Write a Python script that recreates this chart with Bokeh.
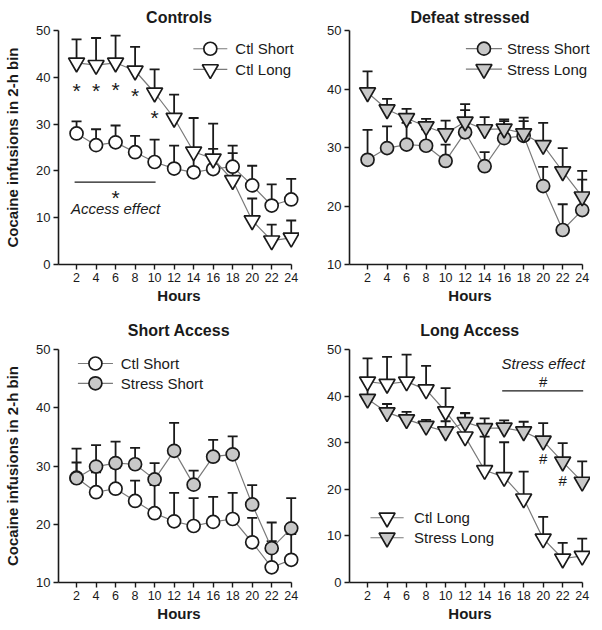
from bokeh.plotting import figure
from bokeh.models import Range1d, Whisker, TeeHead, ColumnDataSource, Label, FixedTicker
from bokeh.layouts import gridplot
from bokeh.core.properties import value
from bokeh.embed import file_html
from bokeh.resources import INLINE

# ---------------- data ----------------
hours = [2, 4, 6, 8, 10, 12, 14, 16, 18, 20, 22, 24]

ctl_short = [28.0, 25.5, 26.1, 24.0, 21.9, 20.5, 19.7, 20.4, 20.9, 16.9, 12.6, 13.9]
ctl_short_sem = [2.6, 3.4, 3.6, 3.5, 4.8, 4.9, 4.8, 4.3, 4.5, 4.2, 4.5, 4.4]

ctl_long = [43.1, 42.6, 43.1, 41.4, 36.7, 31.3, 24.1, 22.6, 18.0, 9.4, 5.1, 5.7]
ctl_long_sem = [5.0, 5.8, 5.8, 5.1, 5.0, 5.0, 7.2, 7.5, 5.8, 4.7, 3.4, 3.7]

stress_short = [27.9, 29.9, 30.5, 30.3, 27.7, 32.6, 26.8, 31.6, 32.0, 23.4, 15.9, 19.3]
stress_short_sem = [5.1, 3.7, 3.7, 2.8, 2.8, 4.8, 2.4, 2.9, 3.1, 3.3, 4.4, 5.2]

stress_long = [39.4, 36.5, 35.0, 33.6, 32.4, 34.4, 33.1, 33.2, 32.4, 30.4, 25.9, 21.6]
stress_long_sem = [3.6, 1.8, 1.6, 1.3, 2.2, 2.0, 2.1, 1.6, 2.1, 3.8, 4.0, 4.4]

x_ticks = [2, 4, 6, 8, 10, 12, 14, 16, 18, 20, 22, 24]
y_ticks_0 = [0, 10, 20, 30, 40, 50]
y_ticks_10 = [10, 20, 30, 40, 50]

panel_titles = ["Controls", "Defeat stressed", "Short Access", "Long Access"]
x_label = "Hours"
y_label = "Cocaine infusions in 2-h bin"

# ---------------- style ----------------
FONT = "Liberation Sans"
INK = "#1a1a1a"
FILL_GRAY = "#c8c8c8"
LINE_GRAY = "#7a7a7a"

series = {
    "Ctl Short": dict(y=ctl_short, e=ctl_short_sem, marker="circle", size=13, fill="white"),
    "Ctl Long": dict(y=ctl_long, e=ctl_long_sem, marker="inverted_triangle", size=16, fill="white"),
    "Stress Short": dict(y=stress_short, e=stress_short_sem, marker="circle", size=13, fill=FILL_GRAY),
    "Stress Long": dict(y=stress_long, e=stress_long_sem, marker="inverted_triangle", size=16, fill=FILL_GRAY),
}


def make_fig(title, ymin, yticks, show_ylabel, width, height, left, top, bottom,
             title_offset, title_standoff):
    p = figure(width=width, height=height, x_range=Range1d(0.15, 24.85),
               y_range=Range1d(ymin, 50), output_backend="svg", toolbar_location=None,
               min_border_left=left, min_border_right=0, min_border_top=top,
               min_border_bottom=bottom)
    p.outline_line_color = None
    p.grid.visible = False
    p.background_fill_color = "white"
    p.border_fill_color = "white"
    p.title.text = title
    p.title.align = "center"
    p.title.offset = title_offset
    p.title.standoff = title_standoff
    p.title.text_font = FONT
    p.title.text_font_size = "16px"
    p.title.text_font_style = "bold"
    p.title.text_color = INK

    xa = p.xaxis[0]
    xa.ticker = FixedTicker(ticks=x_ticks)
    xa.bounds = (0.15, 24.05)
    xa.axis_label = x_label
    xa.axis_label_text_font = FONT
    xa.axis_label_text_font_size = "15px"
    xa.axis_label_text_font_style = "bold"
    xa.axis_label_text_color = INK
    xa.axis_label_standoff = 2
    xa.major_label_text_font = FONT
    xa.major_label_text_font_size = "12.5px"
    xa.major_label_text_color = INK
    xa.major_label_standoff = 3

    ya = p.yaxis[0]
    ya.ticker = FixedTicker(ticks=yticks)
    if show_ylabel:
        ya.axis_label = y_label
        ya.axis_label_text_font = FONT
        ya.axis_label_text_font_size = "15px"
        ya.axis_label_text_font_style = "bold"
        ya.axis_label_text_color = INK
        ya.axis_label_standoff = 12
    ya.major_label_text_font = FONT
    ya.major_label_text_font_size = "13px"
    ya.major_label_text_color = INK
    ya.major_label_standoff = 3

    for ax in (xa, ya):
        ax.axis_line_color = INK
        ax.axis_line_width = 1.6
        ax.major_tick_line_color = INK
        ax.major_tick_line_width = 1.4
        ax.major_tick_in = 0
        ax.major_tick_out = 5
        ax.minor_tick_line_color = None
    return p


def draw_series(p, name):
    s = series[name]
    upper = [v + e for v, e in zip(s["y"], s["e"])]
    src = ColumnDataSource(dict(x=hours, y=s["y"], upper=upper))
    w = Whisker(source=src, base="x", lower="y", upper="upper", dimension="height",
                line_color=INK, line_width=1.8, lower_head=None,
                upper_head=TeeHead(size=10, line_color=INK, line_width=1.8),
                level="underlay")
    p.add_layout(w)
    p.line("x", "y", source=src, line_color=LINE_GRAY, line_width=1.2)
    p.scatter("x", "y", source=src, marker=s["marker"], size=s["size"],
              fill_color=s["fill"], line_color=INK, line_width=1.7)


def draw_legend(p, names, x0, x1, xt, ys):
    for name, yy in zip(names, ys):
        s = series[name]
        p.line([x0, x1], [yy, yy], line_color=LINE_GRAY, line_width=1.2)
        p.scatter([(x0 + x1) / 2], [yy], marker=s["marker"], size=s["size"],
                  fill_color=s["fill"], line_color=INK, line_width=1.7)
        p.text([xt], [yy], text=[name], text_font=value(FONT), text_font_size="15px",
               text_color=INK, text_align="left", text_baseline="middle")


def label(p, x, y, txt, size="15px", style="normal"):
    p.add_layout(Label(x=x, y=y, text=txt, text_font=FONT, text_font_size=size,
                       text_font_style=style, text_color=INK, text_align="center",
                       text_baseline="middle"))


# top row: frame top at 30, bottom row: frame top at 349
p1 = make_fig(panel_titles[0], 0, y_ticks_0, True, 299, 308, 58, 30, 44, -7, 10)
draw_series(p1, "Ctl Short")
draw_series(p1, "Ctl Long")
draw_legend(p1, ["Ctl Short", "Ctl Long"], 13.97, 17.45, 18.27, [46.1, 41.7])
for hx, hy in zip([2, 4, 6, 8, 10], [37.2, 37.2, 37.4, 36.2, 31.5]):
    label(p1, hx, hy, "*", "21px", "normal")
p1.line([1.8, 10.1], [17.6, 17.6], line_color=INK, line_width=1.2)
label(p1, 6, 14.3, "*", "21px", "normal")
label(p1, 6, 11.9, "Access effect", "15px", "italic")

p2 = make_fig(panel_titles[1], 10, y_ticks_10, False, 291, 308, 50, 30, 44, -10, 10)
draw_series(p2, "Stress Short")
draw_series(p2, "Stress Long")
draw_legend(p2, ["Stress Short", "Stress Long"], 12.08, 15.78, 16.3, [46.9, 43.4])

p3 = make_fig(panel_titles[2], 10, y_ticks_10, True, 299, 316, 58, 41, 41, -5, 22)
draw_series(p3, "Ctl Short")
draw_series(p3, "Stress Short")
draw_legend(p3, ["Ctl Short", "Stress Short"], 2.14, 5.73, 6.53, [47.6, 44.2])

p4 = make_fig(panel_titles[3], 0, y_ticks_0, False, 291, 316, 50, 41, 41, -7, 22)
draw_series(p4, "Ctl Long")
draw_series(p4, "Stress Long")
draw_legend(p4, ["Ctl Long", "Stress Long"], 2.3, 5.7, 6.77, [13.9, 9.6])
label(p4, 20, 47.0, "Stress effect", "15px", "italic")
label(p4, 20, 43.1, "#", "15px")
p4.line([15.8, 24.1], [41.1, 41.1], line_color=INK, line_width=1.2)
label(p4, 20, 26.7, "#", "15px")
label(p4, 22, 21.9, "#", "15px")

grid = gridplot([[p1, p2], [p3, p4]], toolbar_location=None)

with open("out.html", "w") as f:
    f.write(file_html(grid, INLINE))
